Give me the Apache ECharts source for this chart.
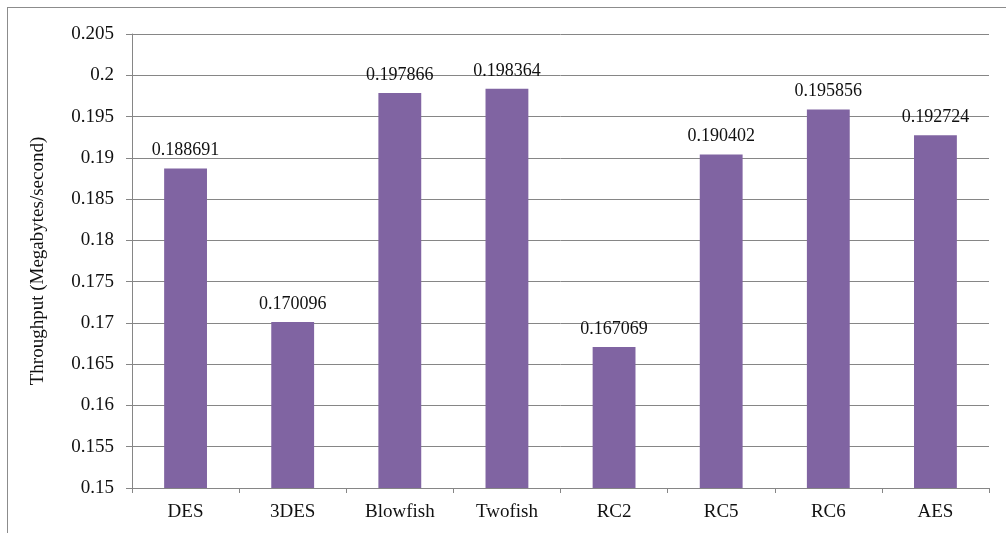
<!DOCTYPE html>
<html>
<head>
<meta charset="utf-8">
<script src="https://cdn.jsdelivr.net/npm/echarts@6/dist/echarts.min.js"></script>
<style>
  html,body{margin:0;padding:0;background:#fff;}
  #frame{position:absolute;left:7px;top:7px;width:1006px;height:533px;border-left:1px solid #8c8c8c;border-top:1px solid #8c8c8c;}
  #main{position:absolute;left:0;top:0;width:1006px;height:533px;}
</style>
</head>
<body>
<div id="frame"></div>
<div id="main"></div>
<script>
// 数据
var categories=['DES','3DES','Blowfish','Twofish','RC2','RC5','RC6','AES']
var throughput=[0.188691,0.170096,0.197866,0.198364,0.167069,0.190402,0.195856,0.192724]
var yMin=0.15
var yMax=0.205
var yStep=0.005

var chart=echarts.init(document.getElementById('main'),null,{renderer:'canvas'})
var font='"Liberation Serif","Times New Roman",serif'

var option={
  animation:false,
  grid:{left:132,right:17,top:34,bottom:45},
  xAxis:{
    type:'category',
    data:categories,
    axisLine:{lineStyle:{color:'#868686',width:1}},
    axisTick:{show:true,alignWithLabel:false,length:5,lineStyle:{color:'#868686'}},
    axisLabel:{color:'#111',fontFamily:font,fontSize:19,margin:15}
  },
  yAxis:{
    type:'value',
    min:yMin,
    max:yMax,
    interval:yStep,
    name:'Throughput (Megabytes/second)',
    nameLocation:'middle',
    nameGap:84,
    nameTextStyle:{color:'#111',fontFamily:font,fontSize:19},
    axisLine:{show:true,lineStyle:{color:'#868686'}},
    axisTick:{show:true,length:6,lineStyle:{color:'#868686'}},
    axisLabel:{color:'#111',fontFamily:font,fontSize:19,margin:18,
      formatter:function(v){return String(parseFloat(v.toFixed(3)))}},
    splitLine:{lineStyle:{color:'#868686',width:1}}
  },
  series:[{
    type:'bar',
    data:throughput,
    barWidth:'40%',
    itemStyle:{color:'#8064A2'},
    label:{show:true,position:'top',distance:9,color:'#111',fontFamily:font,fontSize:18,
      formatter:function(p){return p.value.toFixed(6)}}
  }]
}
chart.setOption(option)
</script>
</body>
</html>
